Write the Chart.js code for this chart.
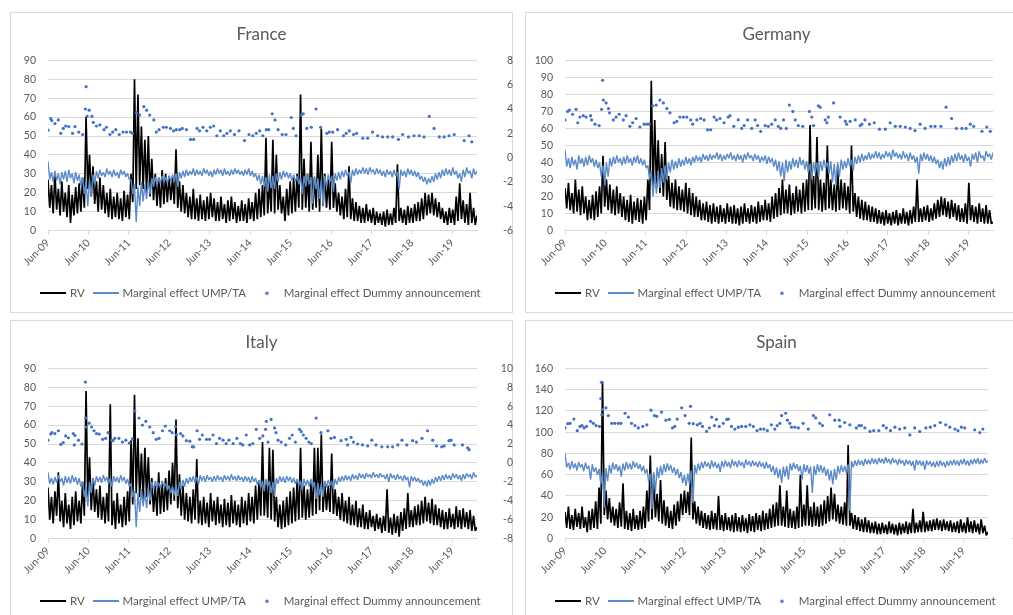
<!DOCTYPE html>
<html>
<head>
<meta charset="utf-8">
<script src="https://cdn.jsdelivr.net/npm/chart.js@4.4.1/dist/chart.umd.min.js"></script>
<style>
html, body { margin: 0; padding: 0; background: #fff; }
body { position: relative; width: 1013px; height: 615px; overflow: hidden; }
.frame { position: absolute; width: 503px; height: 301px; box-sizing: border-box; border: 1px solid #d9d9d9; }
canvas { position: absolute; }
</style>
</head>
<body>
<div class="frame" style="left:10px;top:12px"></div>
<div class="frame" style="left:525px;top:12px"></div>
<div class="frame" style="left:10px;top:320px"></div>
<div class="frame" style="left:525px;top:320px"></div>
<canvas id="france" width="503" height="301" style="left:10px;top:12px"></canvas>
<canvas id="germany" width="503" height="301" style="left:525px;top:12px"></canvas>
<canvas id="italy" width="503" height="301" style="left:10px;top:320px"></canvas>
<canvas id="spain" width="503" height="301" style="left:525px;top:320px"></canvas>
<script>
// tick labels of the time axis (one per year, from Jun-09)
const yearTicks = ['Jun-09','Jun-10','Jun-11','Jun-12','Jun-13','Jun-14','Jun-15','Jun-16','Jun-17','Jun-18','Jun-19'];
const SPAN = 127.3;   // months covered, Jun-09 to end of sample
const PERIODS = 124;  // values read on a grid of 124 periods, two per period

// ---- France
const frRV = [27,12, 24,9, 30,11, 22,8, 26,10, 20,7, 24,4, 19,8, 23,9, 25,10, 28,12, 60,22,
  40,18, 34,14, 26,10, 28,11, 24,9, 20,7, 22,6, 18,7, 20,6, 17,5, 21,7, 19,6,
  30,15, 80,22, 72,24, 55,22, 48,20, 50,18, 38,16, 30,13, 28,12, 32,14, 30,15, 29,16,
  28,14, 43,12, 26,10, 24,9, 20,7, 18,6, 22,6, 17,5, 19,6, 16,5, 18,6, 20,7,
  17,5, 15,5, 18,6, 14,4, 16,5, 18,6, 15,4, 13,5, 16,5, 14,4, 17,6, 15,5,
  20,6, 22,7, 24,8, 49,9, 26,10, 48,9, 40,11, 24,9, 18,5, 22,8, 26,9, 28,10,
  30,12, 72,11, 38,12, 30,10, 47,11, 28,12, 40,10, 54,13, 30,12, 27,11, 47,12, 25,10,
  20,8, 18,6, 22,7, 34,6, 17,5, 15,5, 13,4, 12,4, 14,5, 11,4, 12,3, 10,4,
  9,3, 10,2, 11,3, 9,3, 12,4, 35,5, 12,4, 11,3, 13,4, 12,4, 14,5, 15,5,
  17,6, 20,8, 19,9, 20,8, 17,7, 15,6, 12,4, 10,3, 12,4, 11,3, 18,5, 25,6,
  16,4, 14,3, 20,4, 12,3, 8];
const frUMP = [-0.3,-1.8, -1.2,-2.0, -1.1,-1.9, -1.3,-2.2, -1.2,-1.8, -1.1,-2.0, -1.0,-1.7, -1.3,-2.1, -1.2,-1.9, -1.4,-2.3, -1.6,-3.0, -2.0,-4.0,
  -1.8,-3.2, -1.4,-2.2, -1.1,-1.7, -1.0,-1.5, -1.2,-1.6, -0.9,-1.4, -1.1,-1.6, -1.0,-1.5, -1.2,-1.7, -1.0,-1.4, -1.1,-1.6, -1.3,-1.8,
  -1.8,-3.0, -2.2,-5.3, -2.4,-4.0, -2.0,-3.6, -2.2,-3.4, -1.9,-3.0, -1.7,-2.4, -1.6,-2.2, -1.7,-2.1, -1.5,-2.0, -1.6,-2.1, -1.5,-1.9,
  -1.4,-2.0, -1.3,-2.4, -1.2,-1.7, -1.1,-1.6, -1.0,-1.5, -1.1,-1.4, -0.9,-1.5, -1.0,-1.4, -1.1,-1.5, -0.9,-1.3, -1.0,-1.5, -1.1,-1.6,
  -1.0,-1.4, -0.9,-1.3, -1.0,-1.5, -0.9,-1.4, -1.1,-1.5, -1.0,-1.4, -0.9,-1.3, -1.0,-1.4, -1.1,-1.5, -1.0,-1.4, -0.9,-1.5, -1.1,-1.6,
  -1.3,-1.9, -1.4,-2.2, -1.5,-2.4, -1.6,-2.8, -1.4,-2.5, -1.5,-2.6, -1.3,-2.0, -1.2,-1.8, -1.1,-1.6, -1.2,-1.7, -1.3,-1.9, -1.4,-2.0,
  -1.5,-2.2, -1.6,-3.0, -1.5,-2.4, -1.4,-2.2, -1.6,-3.8, -1.5,-2.6, -1.7,-3.4, -1.8,-4.0, -1.5,-2.4, -1.4,-2.0, -1.5,-2.8, -1.3,-1.9,
  -1.2,-1.8, -1.1,-1.6, -1.0,-1.5, -1.2,-2.1, -1.0,-1.5, -0.9,-1.4, -1.0,-1.3, -0.8,-1.3, -0.9,-1.4, -0.8,-1.2, -1.0,-1.4, -0.9,-1.3,
  -1.0,-1.5, -1.1,-1.6, -1.0,-1.4, -1.1,-1.6, -1.0,-1.5, -1.2,-2.6, -1.0,-1.5, -1.1,-1.6, -0.9,-1.4, -1.0,-1.5, -1.1,-1.6, -1.2,-1.8,
  -1.5,-2.0, -1.6,-2.2, -1.7,-2.1, -1.5,-2.0, -1.3,-1.8, -1.2,-1.7, -1.0,-1.5, -0.9,-1.4, -1.0,-1.5, -0.8,-1.4, -1.1,-1.7, -1.3,-2.0,
  -1.0,-1.6, -0.8,-1.3, -1.1,-1.7, -0.9,-1.4, -1.1];
const frDotAt = [0,0.8,1.1,2,3,3.7,4.4,5.1,6,7.1,7.8,8.9,10,10.8,11,11.3,11.9,12.7,13.1,14,15,16.2,16.9,17.9,18.7,19.6,20.6,21.7,22.7,23.8,
  24.4,25.6,26.5,27.7,28.5,29.4,30.6,31.3,32.1,33.3,34.2,35.4,36.3,37.1,38.1,38.8,40,41.2,42.1,43.1,43.8,44.8,45.9,46.9,47.9,48.8,49.8,
  50.8,51.7,52.7,53.9,55.2,56.8,58.1,59.2,60.2,61.2,62.1,63.1,63.8,64.8,65.6,66.5,67.7,68.8,70.3,70.9,71.7,73.2,73.8,74.8,76.1,77.5,
  78.8,80.6,81.3,82.3,83.7,85.4,86.2,87.1,88.3,89.2,91,92.4,93.8,95.3,96.7,98.2,99.6,101.3,102.5,104.2,105.8,107.3,108.7,110.2,111.6,
  113.1,114.5,115.9,117.4,120.3,121.7,122.5];
const frDotVal = [2.26,3.2,3.05,2.8,3.1,2.0,2.4,2.6,2.55,2.0,2.55,2.1,1.9,4.0,5.84,3.4,3.9,3.4,2.9,2.6,2.7,2.3,2.5,1.9,2.1,2.3,1.9,2.1,2.1,2.1,
  2.0,3.7,3.5,4.2,3.9,3.5,3.1,2.1,2.3,2.5,2.5,2.4,2.2,2.3,2.3,2.4,2.3,1.5,1.5,2.4,2.2,2.5,2.2,2.5,2.6,1.8,2.2,
  1.8,2.0,2.2,1.9,2.2,1.4,1.9,1.8,2.0,2.2,1.8,2.3,2.3,3.6,3.1,2.3,1.9,1.9,3.3,2.4,1.8,3.5,3.6,2.4,2.5,4.0,
  2.5,2.0,2.1,2.1,2.3,1.8,2.0,2.2,1.9,2.0,1.6,1.6,2.1,1.8,1.7,1.7,1.7,1.5,1.9,1.7,1.8,1.8,1.7,3.4,2.4,
  1.7,1.7,1.8,1.9,1.4,1.8,1.3];

// ---- Germany
const deRV = [25,13, 28,12, 22,10, 30,11, 24,9, 26,10, 20,6, 18,7, 21,6, 23,8, 26,10, 44,14,
  30,12, 27,10, 24,9, 26,10, 22,8, 20,6, 18,5, 21,4, 17,6, 19,5, 18,4, 20,6,
  30,12, 88,22, 65,25, 53,22, 45,20, 52,18, 32,14, 28,13, 30,12, 26,12, 24,11, 28,10,
  25,9, 22,8, 20,8, 18,6, 16,6, 17,5, 15,4, 16,5, 14,4, 15,5, 13,4, 16,5,
  14,4, 15,4, 13,3, 14,4, 16,5, 13,4, 15,5, 14,4, 17,5, 15,6, 18,6, 16,5,
  20,7, 22,8, 25,9, 30,10, 24,10, 27,9, 22,10, 26,11, 24,10, 28,11, 30,12, 62,12,
  32,13, 55,12, 30,11, 28,12, 50,13, 30,12, 27,11, 38,12, 30,13, 28,12, 26,10, 50,11,
  22,8, 20,7, 18,6, 17,6, 15,5, 14,5, 13,4, 12,4, 11,3, 12,4, 10,3, 11,4,
  12,3, 10,4, 13,4, 11,3, 12,4, 14,5, 30,5, 13,5, 14,6, 15,5, 13,6, 16,7,
  18,8, 20,9, 19,8, 17,7, 18,8, 16,6, 15,5, 13,5, 16,4, 28,6, 15,5, 14,4,
  16,5, 13,4, 15,4, 12,4, 5];
const deUMP = [-0.3,-1.5, -0.9,-1.6, -0.8,-1.4, -1.0,-1.7, -0.7,-1.3, -0.9,-1.5, -0.8,-1.4, -0.7,-1.2, -0.9,-1.5, -1.0,-1.6, -1.2,-2.2, -1.4,-2.8,
  -1.2,-2.2, -0.9,-1.5, -0.8,-1.3, -0.7,-1.2, -0.9,-1.4, -0.8,-1.3, -0.7,-1.2, -0.9,-1.4, -0.8,-1.2, -0.7,-1.3, -0.9,-1.4, -1.0,-1.6,
  -1.4,-2.4, -1.8,-3.6, -2.0,-3.4, -1.8,-3.0, -1.6,-2.6, -1.4,-2.4, -1.2,-1.9, -1.0,-1.7, -1.1,-1.6, -0.9,-1.5, -1.0,-1.4, -0.8,-1.3,
  -0.9,-1.4, -0.8,-1.2, -0.7,-1.1, -0.8,-1.2, -0.6,-1.0, -0.7,-1.1, -0.6,-1.0, -0.7,-0.9, -0.5,-1.0, -0.6,-1.1, -0.7,-1.0, -0.6,-0.9,
  -0.5,-1.0, -0.7,-1.1, -0.6,-1.0, -0.7,-1.2, -0.6,-1.0, -0.5,-0.9, -0.7,-1.1, -0.6,-1.0, -0.7,-1.2, -0.8,-1.1, -0.7,-1.3, -0.8,-1.2,
  -0.9,-1.5, -1.0,-1.8, -1.1,-2.2, -1.2,-2.5, -1.0,-1.9, -1.1,-1.7, -0.9,-1.5, -1.0,-1.6, -0.8,-1.4, -1.0,-1.7, -1.1,-1.9, -1.3,-2.4,
  -1.2,-1.9, -1.2,-2.2, -1.1,-1.8, -1.0,-1.6, -1.2,-2.0, -1.1,-2.6, -1.3,-2.8, -1.2,-2.2, -1.0,-1.7, -1.1,-1.6, -0.9,-1.5, -1.0,-1.8,
  -0.8,-1.3, -0.7,-1.2, -0.6,-1.1, -0.7,-1.0, -0.5,-1.0, -0.6,-0.9, -0.4,-0.9, -0.5,-1.0, -0.6,-0.9, -0.4,-0.8, -0.5,-1.0, -0.3,-0.8,
  -0.5,-0.9, -0.6,-1.0, -0.4,-0.9, -0.6,-1.1, -0.5,-1.0, -0.7,-1.2, -0.8,-2.0, -0.6,-1.1, -0.5,-1.0, -0.6,-1.1, -0.7,-1.2, -0.8,-1.3,
  -1.0,-1.6, -1.1,-1.7, -0.9,-1.5, -0.8,-1.4, -0.7,-1.2, -0.6,-1.1, -0.5,-1.0, -0.7,-1.2, -0.6,-1.1, -0.8,-1.5, -0.6,-1.0, -0.5,-1.2,
  -0.4,-0.9, -0.7,-1.1, -0.4,-0.8, -0.6,-1.0, -0.5];
const deDotAt = [0,0.8,1.3,2.2,3.2,3.7,4.3,5.3,6.1,7.4,7.7,8.7,9.9,10.6,10.9,11.1,11.9,12.6,12.9,14,14.8,15.7,16.9,17.7,18.8,19.6,20.6,
  21.7,22.9,23.7,24.4,25.4,26.4,27.5,28.5,29.5,30.4,31.6,32.4,33.3,34.3,35.3,36.4,37,38.2,39.3,40.3,41.3,42.2,43.2,43.9,44.9,46.1,
  47.3,47.8,48.9,50.2,51.2,51.9,52.9,54.1,55.1,55.8,56.7,58,58.9,59.9,60.9,61.8,62.5,63.3,64.1,65,66,66.7,67.6,68.9,70.8,71.5,72,
  73.4,73.9,75.4,75.9,76.3,77.8,79.7,81.2,81.6,82.6,84.1,85.5,86,86.9,88.2,89.6,91.1,92.8,94.2,95.7,97.1,98.6,100,101.4,102.9,
  104.3,106,107.2,108.9,110.4,112,113.4,115,116.2,117.4,118.4,120.8,122.2,123.2];
const deDotVal = [1.8,2.4,2.5,2.2,2.55,1.6,2.0,2.1,2.0,2.1,1.8,1.5,1.4,2.55,4.6,3.2,3.0,2.6,2.3,1.8,2.0,2.2,1.8,2.1,1.35,1.6,1.9,
  1.3,1.5,1.5,1.5,2.8,2.85,3.2,3.0,2.6,2.3,1.6,1.7,2.0,2.0,2.0,1.8,1.5,1.8,1.9,1.8,1.1,1.1,2.0,1.8,1.9,1.6,
  2.0,2.1,1.35,1.8,1.2,1.4,1.8,1.2,1.8,1.4,1.0,1.4,1.35,1.5,1.8,1.35,1.2,1.8,1.2,2.85,2.4,1.8,1.4,1.35,2.4,2.0,1.4,
  2.8,2.7,1.8,1.6,2.0,3.0,2.0,1.7,1.5,1.7,1.8,1.4,1.5,1.8,1.5,1.6,1.15,1.15,1.6,1.35,1.35,1.3,1.2,1.05,1.5,
  1.2,1.35,1.35,1.35,2.7,1.9,1.2,1.2,1.2,1.5,1.35,1.0,1.3,1.0];

// ---- Italy
const itRV = [27,10, 22,8, 25,12, 35,9, 20,6, 24,8, 18,5, 22,7, 25,9, 20,8, 30,12, 78,20,
  43,15, 32,14, 26,11, 28,10, 22,8, 24,9, 71,7, 20,5, 24,8, 18,6, 22,7, 25,9,
  52,18, 76,24, 53,22, 45,20, 48,22, 43,18, 32,14, 28,12, 35,13, 30,14, 32,15, 36,18,
  40,20, 63,16, 34,12, 28,10, 24,9, 22,8, 26,10, 42,8, 20,7, 22,8, 19,6, 24,9,
  20,7, 22,8, 18,6, 21,7, 19,6, 23,8, 20,7, 18,6, 22,8, 20,7, 24,9, 22,8,
  28,10, 30,12, 51,12, 30,11, 48,10, 47,9, 22,6, 18,5, 20,6, 22,7, 25,8, 27,9,
  30,10, 48,11, 28,10, 26,11, 30,12, 48,13, 48,15, 55,14, 30,15, 28,14, 45,13, 26,12,
  22,10, 24,9, 20,8, 22,7, 18,7, 20,6, 16,6, 18,5, 14,5, 15,6, 12,4, 13,5,
  11,3, 12,4, 26,3, 11,2, 13,3, 12,1, 14,4, 16,5, 24,6, 15,6, 17,7, 18,7,
  20,8, 22,9, 19,8, 21,7, 18,7, 16,6, 15,5, 14,5, 16,6, 13,5, 17,6, 15,5,
  16,6, 14,5, 15,4, 12,4, 6];
const itUMP = [-1.0,-2.2, -1.6,-2.3, -1.5,-2.1, -1.3,-2.0, -1.6,-2.4, -1.4,-2.1, -1.5,-2.2, -1.3,-2.0, -1.5,-2.3, -1.6,-2.5, -2.0,-3.6, -2.5,-4.6,
  -2.0,-3.2, -1.6,-2.4, -1.4,-2.0, -1.5,-2.1, -1.3,-1.9, -1.5,-2.2, -1.6,-2.5, -1.4,-2.0, -1.5,-2.1, -1.3,-1.9, -1.5,-2.2, -1.7,-2.5,
  -2.2,-3.6, -3.0,-6.8, -3.2,-5.2, -2.8,-4.6, -3.0,-4.8, -2.6,-4.0, -2.0,-2.8, -1.9,-2.6, -2.1,-2.7, -1.9,-2.5, -2.2,-2.9, -2.4,-3.2,
  -2.5,-3.4, -2.3,-3.5, -2.0,-2.8, -1.8,-2.5, -1.6,-2.2, -1.5,-2.0, -1.4,-2.1, -1.5,-2.3, -1.3,-1.9, -1.4,-2.0, -1.3,-1.8, -1.5,-2.0,
  -1.4,-1.9, -1.3,-1.8, -1.5,-2.0, -1.3,-1.8, -1.4,-1.9, -1.2,-1.8, -1.4,-1.9, -1.3,-1.8, -1.5,-2.0, -1.4,-1.9, -1.5,-2.1, -1.4,-2.0,
  -1.6,-2.3, -1.8,-2.6, -1.9,-3.0, -1.7,-2.5, -1.9,-3.2, -2.0,-3.5, -1.6,-2.2, -1.4,-2.0, -1.5,-2.1, -1.4,-1.9, -1.5,-2.1, -1.6,-2.2,
  -1.7,-2.4, -1.9,-2.9, -1.7,-2.4, -1.8,-2.5, -1.7,-2.6, -2.0,-3.8, -2.1,-3.4, -2.2,-3.6, -1.9,-2.6, -1.8,-2.4, -1.9,-2.8, -1.7,-2.3,
  -1.5,-2.0, -1.4,-1.9, -1.3,-1.8, -1.4,-1.9, -1.2,-1.7, -1.3,-1.8, -1.1,-1.6, -1.2,-1.7, -1.1,-1.5, -1.2,-1.6, -1.0,-1.5, -1.2,-1.6,
  -1.1,-1.5, -1.3,-1.7, -1.2,-2.0, -1.1,-1.6, -1.3,-1.8, -1.2,-1.7, -1.4,-1.9, -1.3,-1.8, -1.5,-2.6, -1.4,-1.9, -1.5,-2.0, -1.6,-2.1,
  -1.8,-2.4, -1.9,-2.5, -1.8,-2.4, -1.7,-2.2, -1.5,-2.0, -1.4,-1.9, -1.3,-1.8, -1.2,-1.7, -1.3,-1.8, -1.1,-1.6, -1.2,-1.7, -1.3,-1.9,
  -1.2,-1.7, -1.1,-1.5, -1.2,-1.7, -1.0,-1.5, -1.3];
const itDotAt = [0,0.8,1.1,2,3,3.7,4.4,5.1,5.9,7.3,7.6,7.8,8.8,9.8,10.8,10.9,11,11.9,12.6,13.3,14,14.8,15.8,16.7,17.4,18.4,18.8,19.3,
  20.5,21.5,22.5,23.5,24.4,25.1,26.3,27.3,28.3,29.4,30.4,31.3,32.1,33.1,33.9,35.2,35.9,36.9,37.1,38.3,39,40,41,41.7,42.1,43.1,43.8,
  44.6,45.8,46.7,47.7,48.7,49.6,50.6,51.5,52.3,53.5,54.6,55.6,56.3,57.3,58.3,59.2,60.2,61.2,62.1,62.9,63.1,63.6,64.5,65.5,65.9,66.5,
  67.4,68.7,69.8,70.6,71.5,72.7,73.2,73.8,74.6,75.4,76.1,77.5,78.9,80.9,81.8,82.8,84.7,86.2,86.6,87.6,88.3,89.5,90.9,92.4,93.6,94.8,
  96.5,98.2,99.6,101.1,102.3,103.7,105.4,106.5,108.1,109.7,111.2,112.3,113.8,114.5,115.9,116.5,117.4,119.8,121.3,121.7];
const itDotVal = [2.4,3.05,3.2,3.1,3.4,1.95,2.15,2.85,2.65,3.1,1.9,2.9,2.4,2.0,8.55,4.75,3.8,4.2,3.8,3.4,3.1,3.05,2.5,2.6,3.2,2.4,2.35,2.6,
  2.6,2.2,2.4,2.1,2.55,5.5,4.75,4.0,4.4,3.8,3.2,2.5,2.6,3.4,3.9,3.4,3.2,3.85,2.95,3.1,2.85,2.35,2.3,1.7,1.7,3.4,2.5,
  2.95,2.5,2.5,2.95,2.05,2.6,2.4,2.05,2.4,2.05,2.6,2.05,1.9,2.95,1.9,2.05,3.55,2.6,2.85,3.55,4.4,2.2,4.6,3.7,3.2,2.4,
  2.2,1.9,2.6,2.95,2.2,3.55,3.3,2.95,2.6,2.2,2.05,4.75,3.2,3.4,2.6,2.7,2.35,2.5,1.9,2.7,2.2,2.0,1.9,1.8,2.4,1.9,
  1.7,1.7,1.7,1.9,2.4,1.9,2.35,2.2,2.6,3.4,2.4,1.8,1.7,1.8,2.35,2.4,1.9,1.9,1.6,1.4];

// ---- Spain
const esRV = [25,10, 30,9, 22,8, 28,11, 24,9, 30,10, 20,6, 26,8, 28,10, 35,9, 48,14, 148,22,
  45,18, 38,15, 30,12, 28,10, 34,11, 52,9, 26,8, 24,7, 28,9, 22,8, 26,9, 30,10,
  45,16, 78,18, 60,20, 42,16, 55,14, 36,12, 30,10, 26,9, 32,12, 35,16, 42,22, 45,24,
  44,22, 95,18, 35,14, 30,12, 26,10, 24,9, 22,8, 26,9, 24,8, 40,8, 22,7, 24,8,
  20,7, 22,6, 24,7, 20,6, 22,7, 19,5, 23,7, 21,6, 24,8, 22,7, 26,8, 24,9,
  28,10, 32,11, 34,12, 50,12, 30,11, 45,10, 28,10, 26,9, 30,10, 60,11, 32,12, 50,12,
  30,11, 34,12, 30,11, 32,12, 36,14, 40,16, 48,18, 42,16, 32,14, 30,13, 34,12, 88,12,
  24,9, 22,8, 20,7, 18,6, 20,6, 17,5, 15,5, 16,4, 14,4, 15,5, 13,4, 16,5,
  14,4, 13,3, 15,4, 14,5, 16,4, 15,5, 28,5, 15,6, 17,6, 25,6, 16,7, 17,7,
  18,8, 19,8, 17,7, 18,8, 16,7, 17,6, 15,6, 16,5, 18,6, 15,5, 20,6, 16,5,
  17,6, 14,4, 18,5, 12,3, 6];
const esUMP = [-1.0,-2.8, -2.2,-3.1, -2.0,-2.9, -2.3,-3.2, -2.1,-2.8, -2.4,-3.3, -2.2,-3.0, -2.6,-4.4, -2.4,-3.4, -2.8,-3.8, -3.0,-5.0, -3.4,-8.0,
  -2.9,-4.6, -2.5,-3.6, -2.2,-3.1, -2.4,-3.3, -2.6,-4.0, -2.3,-3.2, -2.1,-3.0, -2.3,-3.1, -2.0,-2.8, -2.2,-3.0, -2.4,-3.3, -2.6,-3.6,
  -3.0,-4.6, -3.6,-8.2, -3.4,-6.0, -2.8,-4.2, -2.6,-3.8, -2.4,-3.4, -2.3,-3.2, -2.5,-3.5, -2.8,-3.8, -3.0,-4.2, -3.4,-4.8, -3.8,-5.2,
  -3.6,-5.0, -3.2,-7.4, -2.5,-3.6, -2.3,-3.2, -2.1,-2.9, -2.0,-2.7, -2.2,-3.0, -1.9,-2.8, -2.1,-2.9, -2.3,-3.4, -2.0,-2.8, -1.9,-2.7,
  -2.1,-2.9, -1.8,-2.6, -2.0,-2.8, -1.9,-2.6, -2.1,-2.9, -1.8,-2.5, -2.0,-2.7, -1.9,-2.6, -2.1,-2.8, -2.0,-2.7, -2.2,-3.0, -2.1,-2.9,
  -2.4,-3.4, -2.6,-3.8, -2.8,-4.2, -3.0,-4.8, -2.7,-4.0, -2.6,-4.4, -2.3,-3.2, -2.2,-3.0, -2.4,-3.3, -2.6,-4.4, -2.4,-3.4, -2.5,-3.6,
  -2.7,-6.1, -2.6,-3.8, -2.4,-3.4, -2.5,-3.5, -2.7,-3.9, -3.0,-4.5, -3.2,-5.0, -3.0,-4.4, -2.6,-3.6, -2.5,-3.4, -2.6,-3.6, -2.4,-8.4,
  -2.0,-2.8, -1.9,-2.6, -1.8,-2.5, -1.9,-2.6, -1.7,-2.4, -1.8,-2.4, -1.6,-2.3, -1.7,-2.4, -1.6,-2.2, -1.7,-2.3, -1.5,-2.2, -1.7,-2.4,
  -1.6,-2.2, -1.8,-2.5, -1.7,-2.3, -1.9,-2.6, -1.8,-2.4, -1.9,-2.6, -2.0,-3.2, -1.8,-2.5, -1.9,-2.6, -2.0,-3.1, -1.9,-2.5, -2.0,-2.7,
  -2.1,-2.8, -2.0,-2.7, -1.9,-2.6, -2.1,-2.8, -2.0,-2.6, -1.9,-2.5, -1.8,-2.5, -1.9,-2.6, -1.8,-2.4, -1.7,-2.5, -1.9,-2.6, -1.8,-2.4,
  -1.7,-2.3, -1.6,-2.4, -1.8,-2.3, -1.6,-2.2, -1.9];
const esDotAt = [0,0.8,1.5,2.6,3.6,4.4,5,5.6,6.3,7.5,8.3,9.1,10.1,10.5,10.7,10.8,11,12,12.7,13.7,14.6,15.6,16.4,17.6,18.6,19.5,20.5,21.5,
  22.8,24,25.2,26.2,26.9,28.3,29.6,30.6,31.5,32.2,32.9,34.2,35.2,36.4,36.8,37.6,38.8,39.6,40.3,41.5,42.3,43,43.8,44.4,45.2,46.4,47.4,
  47.9,48.8,49.8,50.8,51.8,53,54.2,55.2,56.3,57.3,58.3,59.3,60.5,61.5,62.2,63,63.5,64.7,65.2,65.9,66.4,67.4,68.4,69.8,71.3,72.8,73.5,
  74.7,75.5,77.6,79.1,80.4,80.6,82,83.5,85.4,86.2,86.9,87.9,89.4,90.5,92,93.3,94.2,95.4,96.7,98.1,99.6,101.1,102.5,104,105.8,107.1,
  108.4,110,111.6,112.8,114.3,115.2,116.2,117.2,120.1,121.6,122.5];
const esDotVal = [2.3,2.85,2.9,3.45,1.95,2.5,2.6,2.3,2.5,3.15,2.9,2.6,2.5,6.1,8.2,4.0,4.7,4.9,3.9,2.9,2.9,2.9,2.9,4.2,3.7,2.9,2.6,2.3,
  2.5,2.7,4.6,3.9,3.8,4.35,3.3,3.4,2.3,2.5,3.45,4.9,3.9,2.9,5.1,2.85,2.7,2.9,2.5,1.85,2.3,3.7,2.6,3.4,2.5,2.9,3.4,
  3.45,2.5,2.15,2.4,2.5,2.5,2.7,2.5,1.95,2.15,2.15,1.95,2.7,2.15,2.6,2.9,3.9,4.2,3.3,2.9,2.4,2.4,2.3,2.9,2.15,3.9,3.6,
  2.9,2.6,4.0,3.3,3.3,2.5,3.0,2.7,2.3,2.6,2.6,2.3,1.85,1.95,1.95,2.6,2.3,1.95,2.4,2.15,2.3,1.4,2.3,1.85,2.3,2.4,
  2.6,3.0,2.7,2.4,2.15,1.95,2.4,2.3,2.05,1.7,2.15];

const FONT = 'Lato, "Liberation Sans", sans-serif';
const TEXT = '#595959';
const GRID = '#d9d9d9';
const BLUE = '#5b8cc9';
const DOT = '#4472c4';

Chart.defaults.font.family = FONT;
Chart.defaults.color = TEXT;

function lineIcon(color) {
  const c = document.createElement('canvas');
  c.width = 26; c.height = 2;
  const g = c.getContext('2d');
  g.fillStyle = color;
  g.fillRect(0, 0, 26, 2);
  return c;
}
function dotIcon(color) {
  const c = document.createElement('canvas');
  c.width = 5; c.height = 5;
  const g = c.getContext('2d');
  g.fillStyle = color;
  g.beginPath(); g.arc(2.5, 2.5, 1.7, 0, Math.PI * 2); g.fill();
  return c;
}
const icons = [lineIcon('#000'), lineIcon(BLUE), dotIcon(DOT)];

function panel(id, title, rv, ump, dotAt, dotVal, ax) {
  const xy = arr => arr.map((v, i) => ({ x: i * SPAN / (arr.length - 1), y: v }));
  const dots = dotAt.map((p, j) => ({ x: p * SPAN / PERIODS, y: dotVal[j] }));
  new Chart(document.getElementById(id), {
    type: 'line',
    data: {
      datasets: [
        { label: 'RV', data: xy(rv), borderColor: '#000', borderWidth: 1.7, borderJoinStyle: 'bevel',
          pointRadius: 0, yAxisID: 'y', order: 3 },
        { label: 'Marginal effect UMP/TA', data: xy(ump), borderColor: BLUE, borderWidth: 1.4, borderJoinStyle: 'bevel',
          pointRadius: 0, yAxisID: 'y1', order: 2 },
        { label: 'Marginal effect Dummy announcement', data: dots, showLine: false, pointRadius: 1.6,
          pointBackgroundColor: DOT, pointBorderWidth: 0, yAxisID: 'y1', order: 1 }
      ]
    },
    options: {
      responsive: false,
      animation: false,
      events: [],
      layout: { padding: { left: 0, right: 0, top: 0, bottom: 4 } },
      plugins: {
        title: { display: true, text: title, color: TEXT, font: { size: 17, weight: 'normal' }, padding: { top: 12, bottom: 16 } },
        legend: {
          position: 'bottom',
          labels: {
            usePointStyle: true, pointStyleWidth: 22, padding: 10, color: TEXT, font: { size: 11.5 },
            generateLabels: chart => chart.data.datasets.map((ds, i) => ({
              text: ds.label, pointStyle: icons[i], fillStyle: 'transparent', strokeStyle: 'transparent',
              lineWidth: 0, hidden: false, datasetIndex: i, fontColor: TEXT
            }))
          }
        },
        tooltip: { enabled: false }
      },
      scales: {
        x: {
          type: 'linear', min: 0, max: SPAN,
          afterBuildTicks: s => { s.ticks = yearTicks.map((t, k) => ({ value: 12 * k })); },
          afterFit: s => { s.height = 47; },
          ticks: { callback: v => yearTicks[Math.round(v / 12)], autoSkip: false, maxRotation: 45, minRotation: 45,
                   color: TEXT, font: { size: 10.5 }, padding: 2 },
          grid: { drawOnChartArea: false, color: GRID, tickLength: 4 },
          border: { color: GRID }
        },
        y: {
          position: 'left', min: 0, max: ax.lmax,
          ticks: { stepSize: ax.lstep, padding: 12, color: TEXT, font: { size: 10.5 } },
          grid: { color: GRID, drawTicks: false },
          border: { display: false },
          afterFit: s => { s.width = ax.lw; }
        },
        y1: {
          position: 'right', min: ax.rmin, max: ax.rmax,
          ticks: { stepSize: 2, padding: 7, crossAlign: 'far', color: TEXT, font: { size: 10.5 } },
          grid: { display: false, drawTicks: false },
          border: { display: false },
          afterFit: s => { s.width = ax.rw; }
        }
      }
    }
  });
}

panel('france', 'France', frRV, frUMP, frDotAt, frDotVal, { lmax: 90, lstep: 10, rmin: -6, rmax: 8, lw: 38, rw: 36 });
panel('germany', 'Germany', deRV, deUMP, deDotAt, deDotVal, { lmax: 100, lstep: 10, rmin: -6, rmax: 6, lw: 40, rw: 35 });
panel('italy', 'Italy', itRV, itUMP, itDotAt, itDotVal, { lmax: 90, lstep: 10, rmin: -8, rmax: 10, lw: 38, rw: 36 });
panel('spain', 'Spain', esRV, esUMP, esDotAt, esDotVal, { lmax: 160, lstep: 20, rmin: -12, rmax: 10, lw: 40, rw: 40 });
</script>
</body>
</html>
